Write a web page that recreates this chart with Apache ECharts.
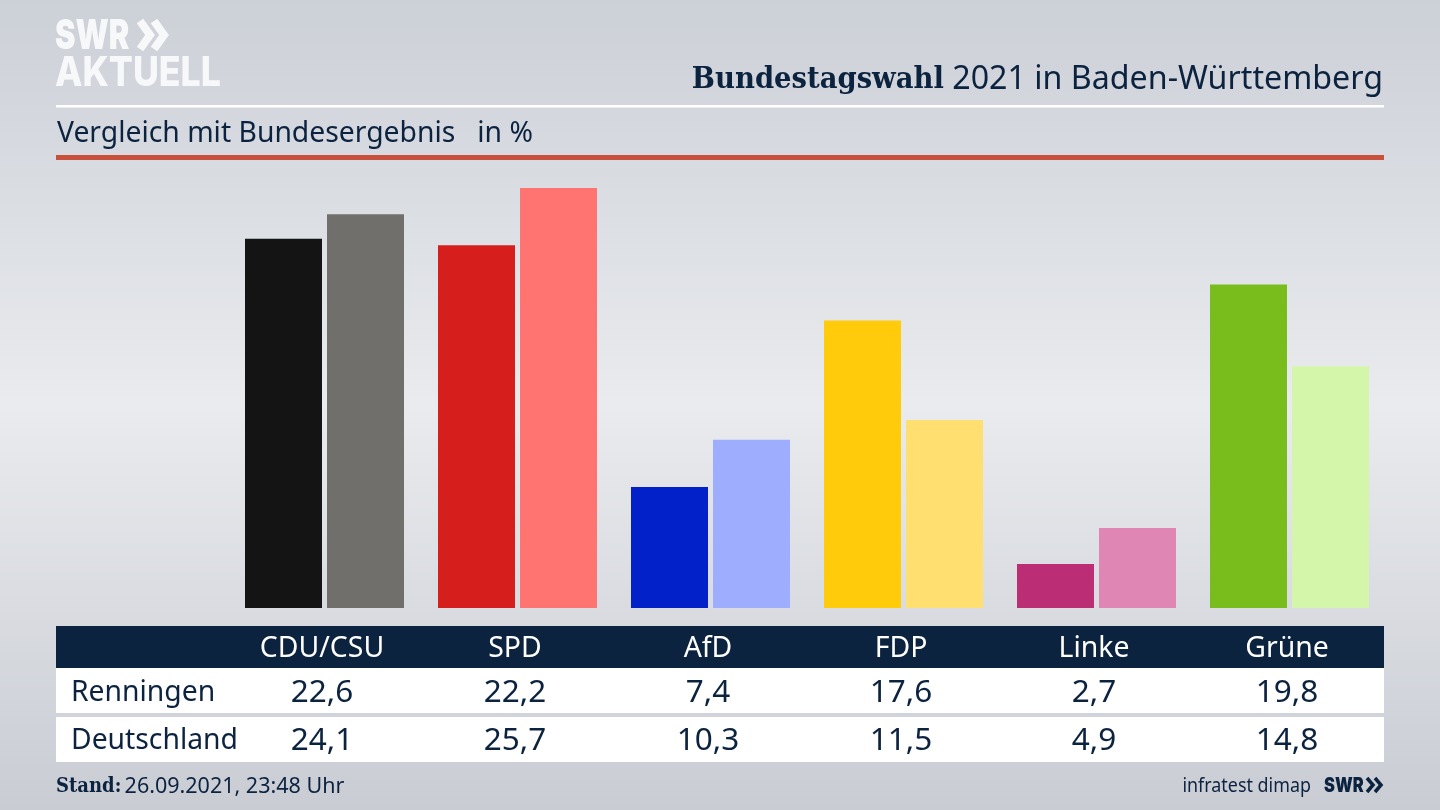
<!DOCTYPE html>
<html lang="de">
<head>
<meta charset="utf-8">
<title>Bundestagswahl 2021 in Baden-Württemberg</title>
<script src="https://cdn.jsdelivr.net/npm/echarts@6/dist/echarts.min.js"></script>
<style>
  html, body { margin: 0; padding: 0; }
  #chart { width: 1440px; height: 810px; }
</style>
</head>
<body>
<div id="chart"></div>
<script>
const parties = ['CDU/CSU', 'SPD', 'AfD', 'FDP', 'Linke', 'Grüne'];
const renningen = [22.6, 22.2, 7.4, 17.6, 2.7, 19.8];
const deutschland = [24.1, 25.7, 10.3, 11.5, 4.9, 14.8];
const renningenColors = ['#141414', '#d61f1c', '#0221c8', '#ffcb0a', '#bb2d74', '#78bd1c'];
const deutschlandColors = ['#716f6c', '#ff7470', '#9fadff', '#ffdf70', '#df86b5', '#d4f6ab'];

const navy = '#0c2340';
const sans = '"Noto Sans", sans-serif';
const slab = '"DejaVu Serif Condensed", "DejaVu Serif", serif';

const fmt = v => v.toFixed(1).replace('.', ',');

// hidden axes under the bars act as the table rows
function tableAxis(labels, offset, fontSize, color) {
    return {
        type: 'category',
        gridIndex: 1,
        data: labels,
        position: 'bottom',
        offset: offset,
        axisLine: { show: false },
        axisTick: { show: false },
        axisLabel: {
            interval: 0, margin: 0, verticalAlign: 'middle',
            color: color, fontSize: fontSize, fontFamily: sans
        }
    };
}

const chart = echarts.init(document.getElementById('chart'));

chart.setOption({
    animation: false,
    backgroundColor: new echarts.graphic.LinearGradient(0, 0, 0, 1, [
        { offset: 0, color: '#ccd0d7' },
        { offset: 0.5, color: '#e9ebee' },
        { offset: 1, color: '#c9ccd3' }
    ]),
    grid: [
        { left: 228, top: 160, width: 1158, height: 448 },
        { left: 225.5, top: 160, width: 1158, height: 448 }
    ],
    xAxis: [
        { type: 'category', gridIndex: 0, data: parties, show: false },
        tableAxis(parties, 41, 28.4, '#ffffff'),
        tableAxis(renningen.map(fmt), 85, 31.5, navy),
        tableAxis(deutschland.map(fmt), 133, 31.5, navy)
    ],
    yAxis: [
        { type: 'value', gridIndex: 0, min: 0, max: 27.42, show: false },
        { type: 'value', gridIndex: 1, min: 0, max: 27.42, show: false }
    ],
    series: [
        {
            name: 'Renningen', type: 'bar', xAxisIndex: 0, yAxisIndex: 0,
            data: renningen, barWidth: 77, barGap: '6.5%',
            itemStyle: { color: p => renningenColors[p.dataIndex] }
        },
        {
            name: 'Deutschland', type: 'bar', xAxisIndex: 0, yAxisIndex: 0,
            data: deutschland, barWidth: 77, barGap: '6.5%',
            itemStyle: { color: p => deutschlandColors[p.dataIndex] }
        }
    ],
    graphic: [
        // table background
        { type: 'rect', z: -1, shape: { x: 56, y: 626, width: 1328, height: 42 }, style: { fill: navy } },
        { type: 'rect', z: -1, shape: { x: 56, y: 668, width: 1328, height: 45 }, style: { fill: '#ffffff' } },
        { type: 'rect', z: -1, shape: { x: 56, y: 717, width: 1328, height: 45 }, style: { fill: '#ffffff' } },

        // rules
        { type: 'rect', shape: { x: 56, y: 105, width: 1328, height: 2.5 }, style: { fill: '#ffffff' } },
        { type: 'rect', shape: { x: 56, y: 155, width: 1328, height: 5 }, style: { fill: '#c9503b' } },

        // logo
        { type: 'text', x: 55, y: 37, scaleX: 0.75, style: { text: 'SWR', fill: '#f7f8f9', font: '900 41px Inter, sans-serif', textVerticalAlign: 'middle' } },
        { type: 'polyline', shape: { points: [[140, 21], [150, 35], [140, 49]] }, style: { stroke: '#f7f8f9', lineWidth: 8, fill: 'none' } },
        { type: 'polyline', shape: { points: [[154, 21], [164, 35], [154, 49]] }, style: { stroke: '#f7f8f9', lineWidth: 8, fill: 'none' } },
        { type: 'text', x: 55, y: 74, scaleX: 0.87, style: { text: 'AKTUELL', fill: '#f7f8f9', font: '800 41px Inter, sans-serif', textVerticalAlign: 'middle' } },

        // headings
        {
            type: 'text', x: 1383, y: 80,
            style: {
                text: '{b|Bundestagswahl}{r| 2021 in Baden-Württemberg}',
                textAlign: 'right', textVerticalAlign: 'middle',
                rich: {
                    b: { font: 'bold 30.5px ' + slab, fill: navy },
                    r: { font: '32.2px ' + sans, fill: navy }
                }
            }
        },
        { type: 'text', x: 57, y: 134, style: { text: 'Vergleich mit Bundesergebnis   in %', fill: navy, font: '28.3px ' + sans, textVerticalAlign: 'middle' } },

        // row names
        { type: 'text', x: 71, y: 693, style: { text: 'Renningen', fill: navy, font: '28.3px ' + sans, textVerticalAlign: 'middle' } },
        { type: 'text', x: 71, y: 741, style: { text: 'Deutschland', fill: navy, font: '28.3px ' + sans, textVerticalAlign: 'middle' } },

        // footer
        {
            type: 'text', x: 56, y: 787,
            style: {
                text: '{b|Stand:} {r|26.09.2021, 23:48 Uhr}',
                textVerticalAlign: 'middle',
                rich: {
                    b: { font: 'bold 20px ' + slab, fill: navy },
                    r: { font: '21.5px ' + sans, fill: navy }
                }
            }
        },
        { type: 'text', x: 1311, y: 786, scaleX: 0.895, style: { text: 'infratest dimap', fill: navy, font: '20px ' + sans, textAlign: 'right', textVerticalAlign: 'middle' } },
        { type: 'text', x: 1324, y: 786, scaleX: 0.82, style: { text: 'SWR', fill: navy, font: '900 20px Inter, sans-serif', textVerticalAlign: 'middle' } },
        { type: 'polyline', shape: { points: [[1367, 778], [1373, 785], [1367, 792]] }, style: { stroke: navy, lineWidth: 3.5, fill: 'none' } },
        { type: 'polyline', shape: { points: [[1375, 778], [1381, 785], [1375, 792]] }, style: { stroke: navy, lineWidth: 3.5, fill: 'none' } }
    ]
});

window.addEventListener('resize', () => chart.resize());
</script>
</body>
</html>
